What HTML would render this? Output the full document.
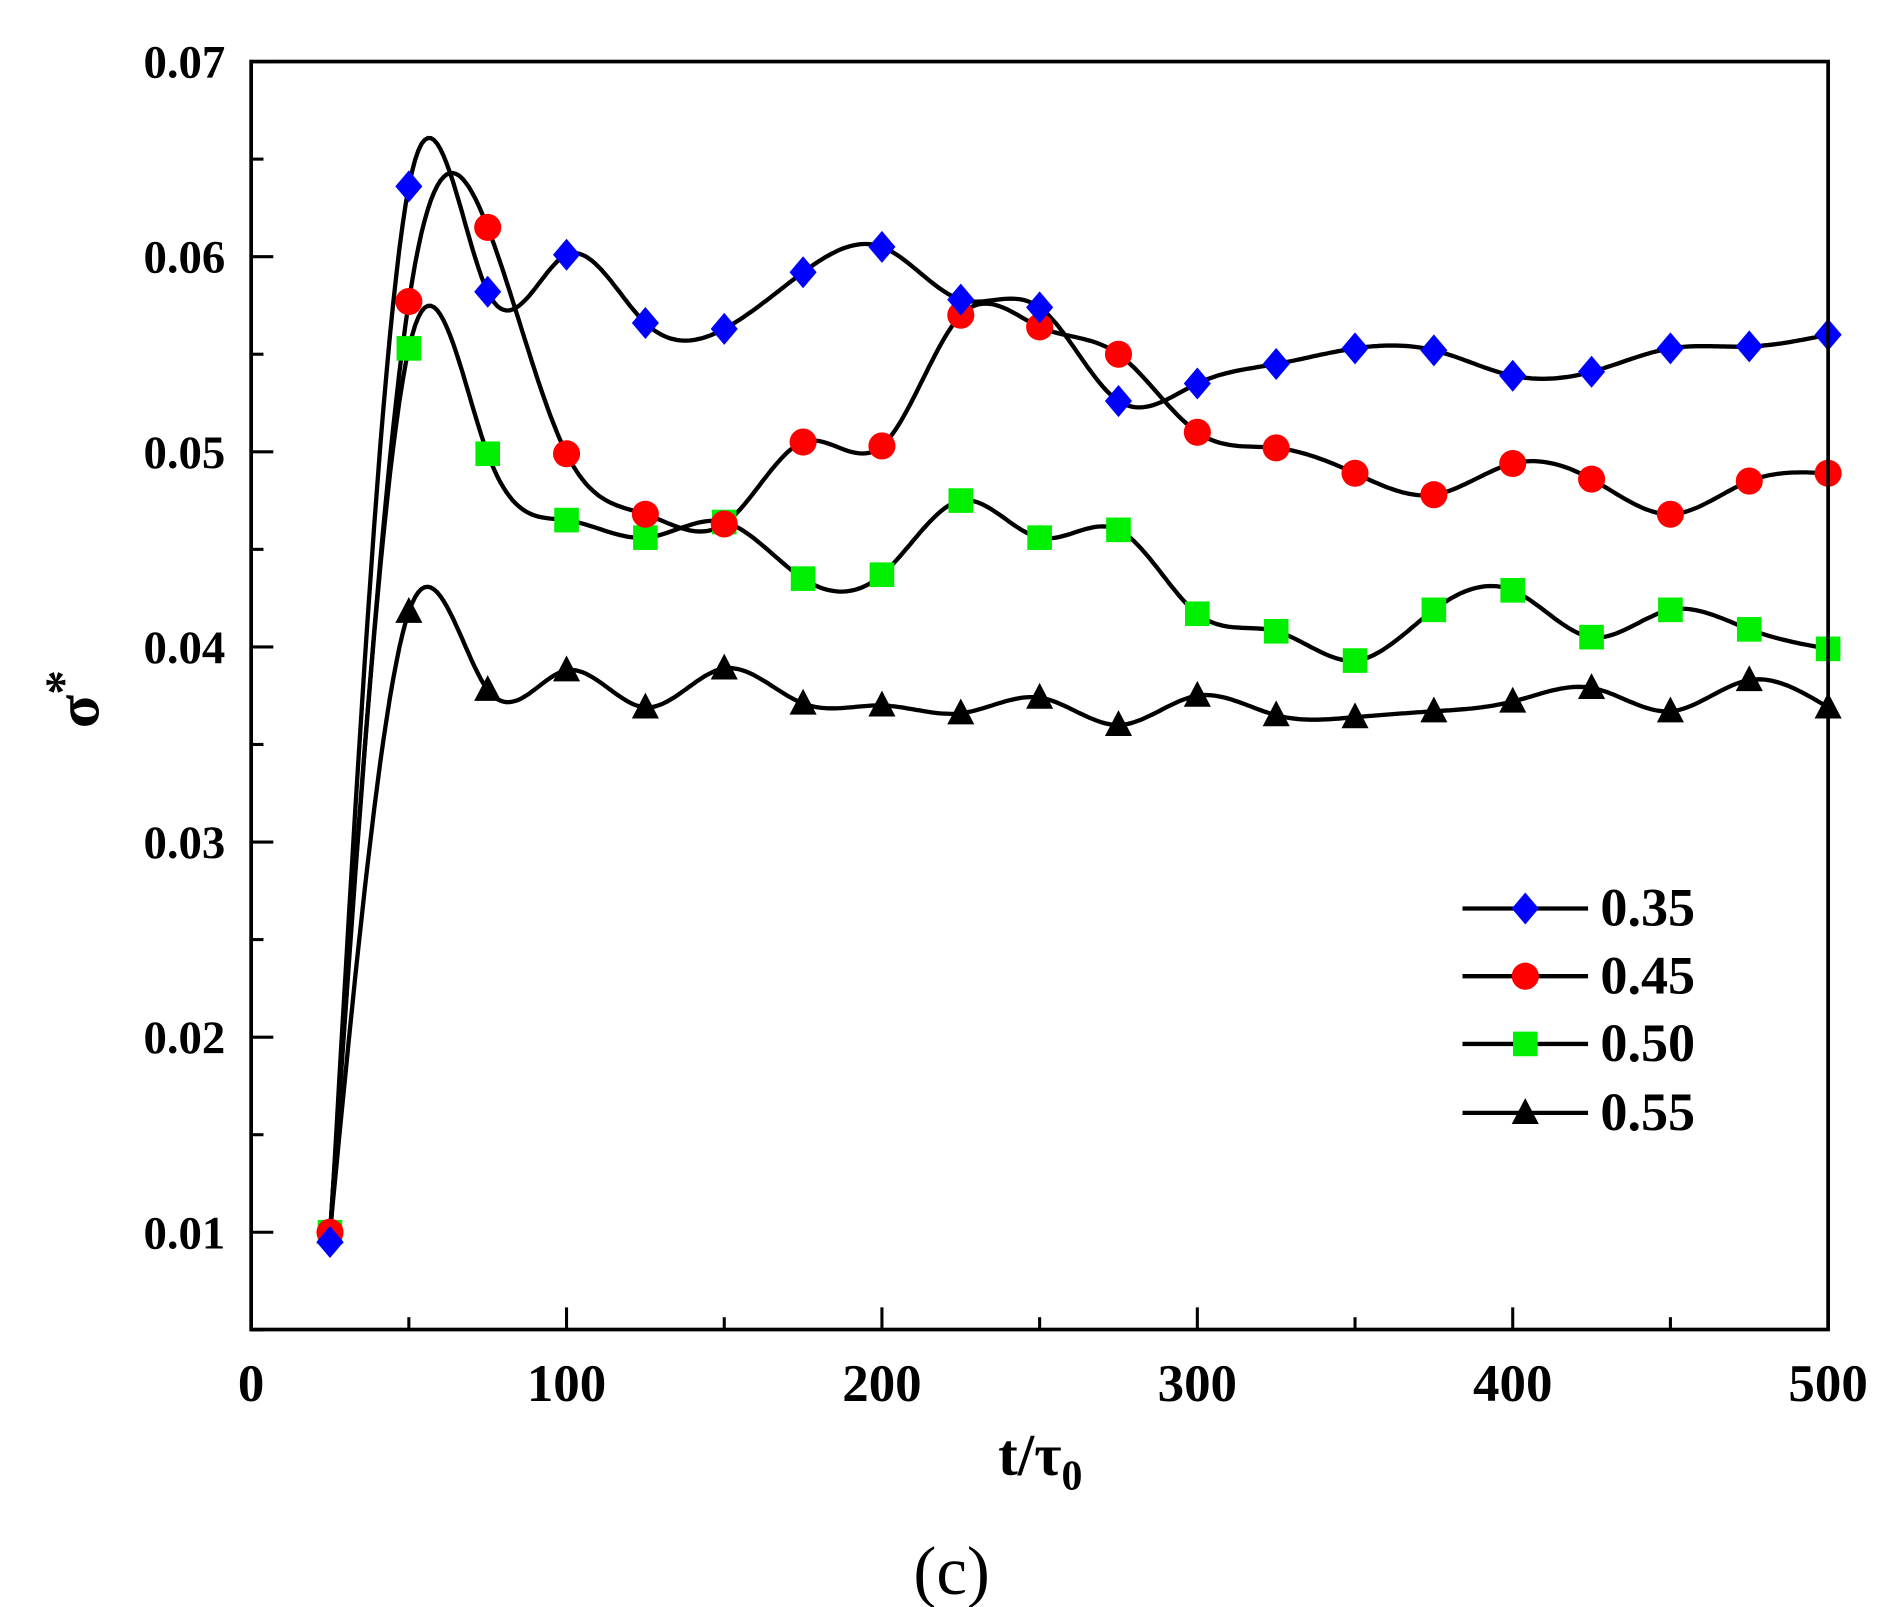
<!DOCTYPE html>
<html><head><meta charset="utf-8"><style>html,body{margin:0;padding:0;background:#fff}svg{display:block}</style></head>
<body>
<svg id="s" width="1902" height="1607" viewBox="0 0 1545 1305.4" xmlns="http://www.w3.org/2000/svg" font-family="'Liberation Serif',serif" font-weight="bold">
<rect x="0" y="0" width="1545" height="1306" fill="#fff"/>
<g id="ticks" stroke="#000" stroke-width="2.5"></g>
<g id="curves" fill="none" stroke="#000" stroke-width="3.5"></g>
<g id="marks"></g>
<rect x="204" y="50" width="1281" height="1030" fill="none" stroke="#000" stroke-width="3"/>
<g font-size="38" text-anchor="end" id="ylab"></g>
<g font-size="43" text-anchor="middle" id="xlab"></g>
<text x="845" y="1198" font-size="48" text-anchor="middle">t/τ<tspan font-size="34" dy="12">0</tspan></text>
<text x="80" y="568" font-size="50" text-anchor="middle" transform="rotate(-90 80 568)">σ<tspan dy="-16" font-size="40">*</tspan></text>
<text x="773" y="1295" font-size="56" font-weight="normal" text-anchor="middle">(c)</text>
<g id="legend"></g>
</svg>
<script>
const NS="http://www.w3.org/2000/svg";
const X=t=>204+t*2.562, Y=v=>50+(0.07-v)*15850;
function el(tag,attrs,parent){const e=document.createElementNS(NS,tag);for(const k in attrs)e.setAttribute(k,attrs[k]);if(parent)document.getElementById(parent).appendChild(e);return e;}
for(let t=0;t<=500;t+=50){const x=X(t);el('line',{x1:x,y1:1080,x2:x,y2:t%100?1070:1062},'ticks');if(t%100===0){const e=el('text',{x:x,y:1138},'xlab');e.textContent=t;}}
for(let i=0;i<=13;i++){const v=0.005+i*0.005;const y=Y(v);el('line',{x1:204,y1:y,x2:i%2?222:214,y2:y},'ticks');if(i%2){const e=el('text',{x:183,y:y+13},'ylab');e.textContent=v.toFixed(2);}}
const ts=[];for(let t=25;t<=500;t+=25)ts.push(t);
const data=[
 ['#0000ff','d',[0.0095,0.0636,0.0582,0.0601,0.0566,0.0563,0.0592,0.0605,0.0578,0.0574,0.0526,0.0535,0.0545,0.0553,0.0552,0.0539,0.0541,0.0553,0.0554,0.0560]],
 ['#ff0000','c',[0.010,0.0577,0.0615,0.0499,0.0468,0.0463,0.0505,0.0503,0.0570,0.0564,0.0550,0.0510,0.0502,0.0489,0.0478,0.0494,0.0486,0.0468,0.0485,0.0489]],
 ['#00ee00','s',[0.010,0.0553,0.0499,0.0465,0.0456,0.0464,0.0435,0.0437,0.0475,0.0456,0.0460,0.0417,0.0408,0.0393,0.0419,0.0429,0.0405,0.0419,0.0409,0.0399]],
 ['#000000','t',[0.010,0.0418,0.0378,0.0388,0.0369,0.0389,0.0371,0.0370,0.0366,0.0374,0.0360,0.0375,0.0365,0.0364,0.0367,0.0372,0.0379,0.0367,0.0383,0.0369]]
];
function spline(xs,ys){const n=xs.length,h=[],a=[],l=[1],mu=[0],z=[0],c=new Array(n).fill(0),b=[],d=[];
 for(let i=0;i<n-1;i++)h[i]=xs[i+1]-xs[i];
 for(let i=1;i<n-1;i++)a[i]=3/h[i]*(ys[i+1]-ys[i])-3/h[i-1]*(ys[i]-ys[i-1]);
 for(let i=1;i<n-1;i++){l[i]=2*(xs[i+1]-xs[i-1])-h[i-1]*mu[i-1];mu[i]=h[i]/l[i];z[i]=(a[i]-h[i-1]*z[i-1])/l[i];}
 for(let j=n-2;j>=0;j--){c[j]=z[j]-mu[j]*c[j+1];b[j]=(ys[j+1]-ys[j])/h[j]-h[j]*(c[j+1]+2*c[j])/3;d[j]=(c[j+1]-c[j])/(3*h[j]);}
 return x=>{let i=Math.min(n-2,Math.max(0,Math.floor((x-xs[0])/h[0])));const dx=x-xs[i];return ys[i]+b[i]*dx+c[i]*dx*dx+d[i]*dx*dx*dx;};}
function marker(type,color,x,y,parent){
 if(type==='d')el('polygon',{points:`${x},${y-13} ${x+11},${y} ${x},${y+13} ${x-11},${y}`,fill:color},parent);
 else if(type==='c')el('circle',{cx:x,cy:y,r:11,fill:color},parent);
 else if(type==='s')el('rect',{x:x-10,y:y-10,width:20,height:20,fill:color},parent);
 else el('polygon',{points:`${x},${y-12} ${x+11},${y+9} ${x-11},${y+9}`,fill:color},parent);
}
data.slice().reverse().forEach(([col,type,vals])=>{
 const f=spline(ts,vals);let p='';
 for(let t=25;t<=500;t+=1){p+=(t===25?'M':'L')+X(t).toFixed(1)+','+Y(f(t)).toFixed(1);}
 el('path',{d:p},'curves');
});
data.slice().reverse().forEach(([col,type,vals])=>{ts.forEach((t,i)=>marker(type,col,X(t),Y(vals[i]),'marks'));});
const labs=['0.35','0.45','0.50','0.55'],ly=[738,793,848,904];
data.forEach(([col,type],i)=>{el('line',{x1:1188,y1:ly[i],x2:1290,y2:ly[i],stroke:'#000','stroke-width':3.5},'legend');marker(type,col,1239,ly[i],'legend');const e=el('text',{x:1300,y:ly[i]+14,'font-size':44},'legend');e.textContent=labs[i];});
</script>
</body></html>
